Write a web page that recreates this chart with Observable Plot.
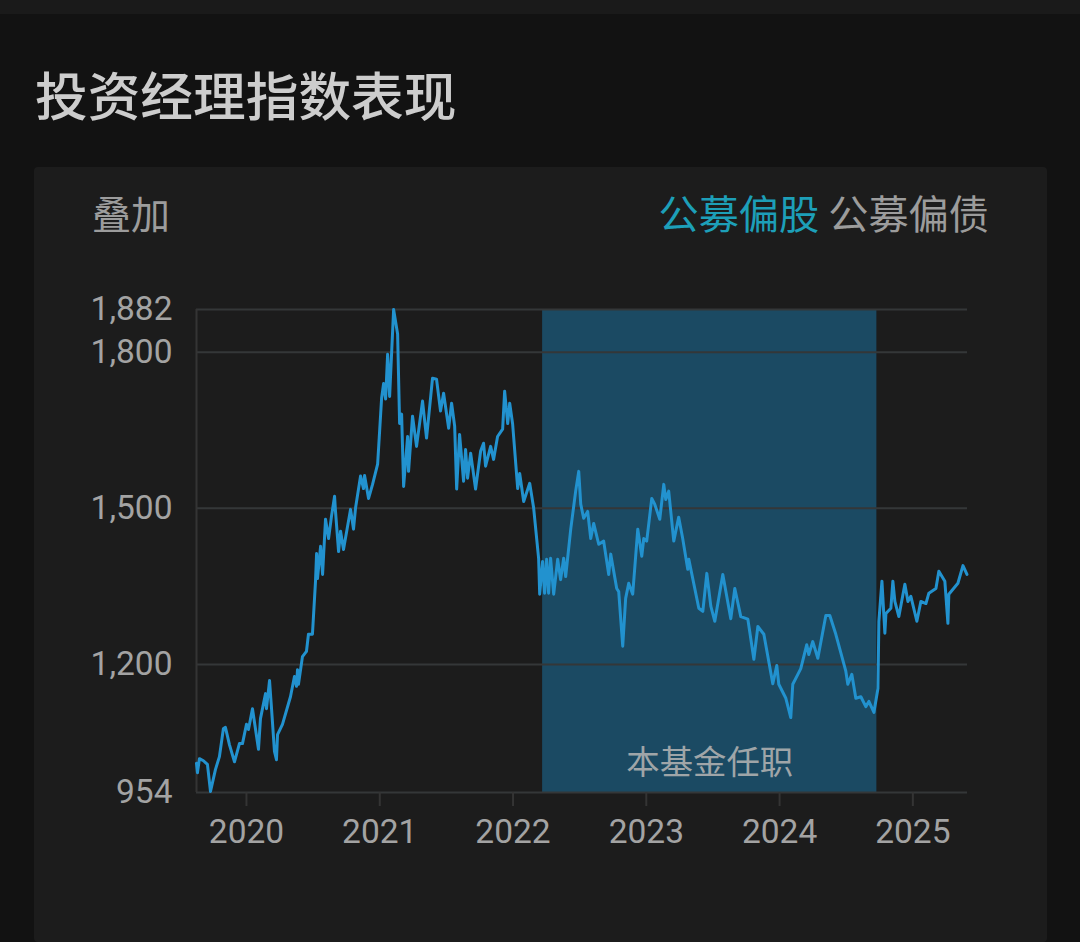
<!DOCTYPE html>
<html lang="zh">
<head>
<meta charset="utf-8">
<script src="https://cdn.jsdelivr.net/npm/d3@7"></script>
<script src="https://cdn.jsdelivr.net/npm/@observablehq/plot@0.6"></script>
<style>
html,body{margin:0;padding:0;width:1080px;height:942px;overflow:hidden;background:#121212;font-family:"Noto Sans CJK SC",sans-serif}
#strip{position:absolute;left:0;top:0;width:1080px;height:14px;background:#1a1a1a}
#card{position:absolute;left:34px;top:167px;width:1013px;height:775px;background:#1c1c1c;border-radius:4px}
.t{position:absolute;white-space:nowrap;line-height:1}
#title{left:35px;top:67px;font-size:52.7px;font-weight:500;color:#cdcdcd}
#over{left:92px;top:193px;font-size:39px;color:#9c9c9c}
#tabs{right:91px;top:192px;font-size:40.2px;color:#9c9c9c}
#tabs b{font-weight:400;color:#1d9fb8}
#chart{position:absolute;left:0;top:260px}
#chart svg{display:block;background:transparent}
</style>
</head>
<body>
<div id="strip"></div>
<div id="card"></div>
<div class="t" id="title">投资经理指数表现</div>
<div class="t" id="over">叠加</div>
<div class="t" id="tabs"><b>公募偏股</b> 公募偏债</div>
<div id="chart"></div>
<script>
const years = [2019.625,2019.632,2019.647,2019.677,2019.707,2019.730,2019.767,2019.797,2019.827,2019.842,2019.872,2019.910,2019.947,2019.970,
2020.000,2020.015,2020.045,2020.090,2020.105,2020.143,2020.150,2020.173,2020.188,2020.210,2020.225,2020.233,2020.270,2020.330,2020.360,2020.375,2020.383,2020.390,2020.420,2020.450,2020.465,2020.495,2020.518,2020.526,2020.533,2020.556,2020.571,2020.593,2020.616,2020.638,2020.661,2020.668,2020.691,2020.706,2020.728,2020.781,2020.803,2020.818,2020.856,2020.878,2020.886,2020.916,2020.946,2020.984,
2021.014,2021.029,2021.044,2021.059,2021.074,2021.104,2021.134,2021.149,2021.164,2021.179,2021.209,2021.216,2021.246,2021.276,2021.321,2021.351,2021.396,2021.426,2021.456,2021.479,2021.517,2021.539,2021.562,2021.577,2021.599,2021.629,2021.644,2021.659,2021.682,2021.719,2021.757,2021.779,2021.794,2021.832,2021.854,2021.884,2021.922,2021.937,2021.960,2021.975,2021.997,
2022.035,2022.050,2022.080,2022.125,2022.155,2022.192,2022.200,2022.222,2022.237,2022.252,2022.267,2022.282,2022.305,2022.335,2022.357,2022.380,2022.395,2022.433,2022.470,2022.493,2022.508,2022.530,2022.560,2022.583,2022.605,2022.643,2022.680,2022.718,2022.733,2022.778,2022.793,2022.823,2022.845,2022.868,2022.898,2022.936,2022.966,2022.981,
2023.003,2023.041,2023.063,2023.101,2023.131,2023.146,2023.168,2023.206,2023.243,2023.273,2023.311,2023.319,2023.394,2023.424,2023.454,2023.484,2023.514,2023.574,2023.634,2023.664,2023.709,2023.762,2023.807,2023.837,2023.882,2023.949,2023.979,2023.994,
2024.047,2024.084,2024.099,2024.137,2024.159,2024.204,2024.219,2024.249,2024.287,2024.347,2024.377,2024.422,2024.497,2024.512,2024.542,2024.572,2024.610,2024.647,2024.670,2024.708,2024.738,2024.745,2024.768,2024.790,2024.798,2024.835,2024.850,2024.865,2024.895,2024.940,2024.963,2024.985,
2025.030,2025.060,2025.098,2025.120,2025.173,2025.195,2025.240,2025.263,2025.270,2025.338,2025.376,2025.406];
const values = [1010,992,1019,1015,1008,956,998,1023,1077,1079,1046,1013,1048,1048,
1085,1075,1115,1037,1096,1144,1115,1169,1115,1033,1017,1065,1085,1138,1177,1158,1190,1162,1215,1225,1258,1258,1360,1413,1365,1427,1373,1479,1442,1485,1523,1494,1417,1456,1421,1498,1460,1500,1562,1538,1563,1519,1546,1585,
1712,1740,1710,1796,1715,1882,1835,1663,1681,1542,1638,1571,1677,1619,1706,1635,1750,1748,1687,1721,1654,1702,1658,1537,1642,1552,1613,1558,1606,1537,1610,1625,1581,1619,1594,1638,1652,1725,1663,1702,1662,
1538,1567,1513,1548,1500,1404,1335,1398,1337,1402,1337,1404,1335,1402,1363,1404,1369,1460,1533,1571,1508,1481,1494,1442,1471,1431,1437,1373,1412,1346,1340,1235,1327,1356,1335,1460,1408,1442,
1437,1519,1508,1479,1546,1517,1533,1437,1483,1442,1383,1402,1308,1302,1375,1312,1283,1373,1288,1346,1292,1287,1210,1273,1258,1163,1198,1162,
1135,1098,1162,1181,1192,1238,1219,1244,1212,1294,1294,1258,1187,1162,1181,1135,1138,1119,1129,1108,1154,1283,1360,1260,1298,1308,1360,1321,1292,1354,1321,1331,
1283,1321,1317,1337,1346,1379,1360,1279,1335,1356,1390,1373];
const yTicks = [954,1200,1500,1800,1882];
const xTicks = [2020,2021,2022,2023,2024,2025];
const xDomain = [2019.625,2025.41];
const tenure = [2022.222,2024.730];
const tenureLabel = "本基金任职";
const series = years.map((year,i)=>({year,value:values[i]}));
const thousands = d3.format(",");

const chart = Plot.plot({
  width:1080,height:600,
  marginLeft:196,marginRight:113,marginTop:49,marginBottom:68,
  style:{background:"transparent",fontFamily:"Roboto,sans-serif"},
  x:{type:"linear",domain:xDomain},
  y:{type:"linear",domain:[954,1882]},
  marks:[
    Plot.rectY([tenure],{x1:d=>d[0],x2:d=>d[1],y1:954,y2:1882,fill:"#1b4a63"}),
    Plot.ruleY(yTicks,{stroke:"#343738",strokeWidth:2}),
    Plot.ruleX([xDomain[0]],{stroke:"#343434",strokeWidth:2}),
    Plot.line(series,{x:"year",y:"value",stroke:"#2292cf",strokeWidth:3,curve:"linear"}),
    Plot.text([tenureLabel],{x:(tenure[0]+tenure[1])/2,y:1010,text:d=>d,fill:"#9fa5a8",fontSize:33.4,fontFamily:"'Noto Sans CJK SC',sans-serif"}),
    Plot.axisY({ticks:yTicks,tickFormat:d=>thousands(d),tickSize:0,tickPadding:24,fontSize:33.5,color:"#a3a3a3",label:null}),
    Plot.axisX({ticks:xTicks,tickFormat:d=>String(d),tickSize:14,tickPadding:13,fontSize:33.5,color:"#a3a3a3",stroke:"#a3a3a3",label:null})
  ]
});
d3.select(chart).selectAll("[aria-label='x-axis tick'] path").attr("stroke","#343434").attr("stroke-width",2);
document.getElementById("chart").append(chart);
</script>
</body>
</html>
